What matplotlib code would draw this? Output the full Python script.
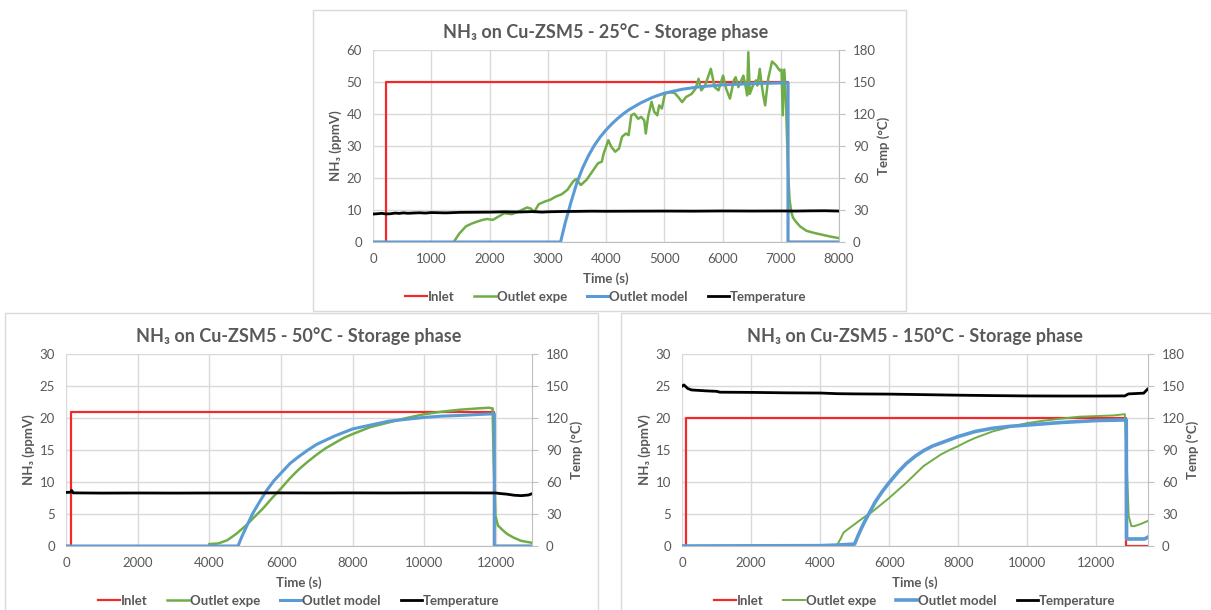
import matplotlib.pyplot as plt
from matplotlib.patches import Rectangle

plt.rcParams['font.family'] = ['Lato', 'DejaVu Sans']

W, H = 1211, 610
TXT = '#595959'
GRID = '#d9d9d9'
AXL = '#bfbfbf'
C_INLET = '#f02a2a'
C_EXPE = '#70ad47'
C_MODEL = '#5b9bd5'
C_TEMP = '#000000'

# ---------------- 25 C ----------------
t_inlet_25 = [0, 220, 220, 7125, 7125, 8000]
inlet_25 = [0, 0, 50, 50, 0, 0]

t_expe_25 = [1386, 1480, 1596, 1700, 1793, 1880, 1957, 2056, 2150, 2253, 2384, 2516, 2647, 2713, 2765, 2844,
             2943, 3041, 3140, 3238, 3337, 3435, 3488, 3567, 3665, 3764, 3862, 3928,
             3961, 4040, 4093, 4158, 4223, 4276, 4342, 4388, 4434, 4486, 4552, 4604,
             4657, 4683, 4722, 4782, 4827, 4880, 4913, 4959, 5011, 5077, 5176, 5241,
             5307, 5373, 5471, 5537, 5589, 5635, 5701, 5800, 5865, 5931, 6010, 6062,
             6128, 6194, 6226, 6272, 6312, 6358, 6404, 6423, 6443, 6469, 6522, 6574,
             6600, 6640, 6666, 6705, 6732, 6784, 6850, 6916, 6981, 7014, 7034, 7061,
             7087, 7126, 7150, 7179, 7210, 7258, 7330, 7441, 7560, 7704, 7850, 8000]
expe_25 = [0.0, 2.6, 4.9, 5.8, 6.4, 6.9, 7.2, 6.9, 7.9, 9.0, 8.7, 9.7, 10.8, 10.4, 9.3, 11.8,
           12.6, 13.2, 14.2, 14.9, 16.3, 18.9, 19.7, 17.8, 19.4, 22.0, 24.6, 25.1,
           27.7, 31.8, 29.7, 28.2, 29.2, 32.9, 33.9, 33.4, 39.6, 40.1, 38.5, 39.1,
           38.0, 33.9, 39.1, 43.8, 40.7, 39.6, 42.7, 41.7, 46.3, 46.8, 46.6, 45.3,
           43.7, 45.3, 46.3, 47.9, 51.0, 47.4, 48.9, 54.1, 48.4, 47.4, 52.0, 47.9,
           44.8, 50.5, 51.5, 48.4, 50.0, 52.0, 47.9, 45.8, 59.3, 46.3, 48.9, 50.5,
           48.9, 54.1, 50.0, 45.3, 42.7, 51.0, 56.4, 55.3, 53.6, 53.9, 39.6, 53.9,
           44.8, 22.0, 13.5, 9.5, 7.6, 6.4, 4.9, 3.5, 2.9, 2.3, 1.7, 1.2]

t_model_25 = [0, 3220, 3300, 3400, 3500, 3600, 3700, 3800, 3900, 4000, 4100, 4200, 4300, 4400,
              4600, 4800, 5000, 5300, 5600, 6000, 6500, 7000, 7125, 7125, 8000]
model_25 = [0, 0, 6.0, 12.5, 18.5, 23.2, 27.0, 30.2, 32.8, 35.0, 36.9, 38.6, 40.1, 41.4,
            43.5, 45.2, 46.5, 47.7, 48.5, 49.1, 49.5, 49.7, 49.7, 0, 0]

t_temp_25 = [0, 100, 150, 220, 300, 380, 450, 520, 600, 700, 800, 900, 1000, 1250, 1500, 1750,
             2000, 2250, 2500, 2750, 2900, 3000, 3250, 3500, 3750, 4000, 4500, 5000, 5500,
             6000, 6500, 7000, 7250, 7500, 7750, 8000]
temp_25 = [26.2, 26.6, 26.9, 26.3, 26.5, 27.1, 26.8, 27.3, 26.9, 27.2, 27.4, 27.1, 27.6, 27.3, 27.8, 27.9,
           28.0, 28.3, 28.1, 28.5, 28.0, 28.3, 28.6, 28.7, 28.9, 28.8, 28.9, 29.0, 28.9,
           29.1, 29.0, 29.1, 29.0, 29.2, 29.3, 29.0]

# ---------------- 50 C ----------------
t_inlet_50 = [0, 140, 140, 11950, 11950, 13000]
inlet_50 = [0, 0, 21, 21, 0, 0]

t_expe_50 = [4000, 4250, 4500, 4750, 5000, 5250, 5500, 5750, 6000, 6250, 6500, 6750,
             7000, 7250, 7500, 7750, 8000, 8500, 9000, 9500, 10000, 10500, 11000, 11500,
             11800, 11900, 11930, 11980, 12050, 12160, 12300, 12490, 12700, 13000]
expe_50 = [0.3, 0.4, 0.9, 1.9, 3.1, 4.5, 5.9, 7.5, 9.0, 10.6, 12.0, 13.2,
           14.3, 15.3, 16.1, 16.9, 17.5, 18.6, 19.3, 20.0, 20.6, 21.0, 21.3, 21.5,
           21.6, 21.5, 13.5, 4.7, 3.2, 2.6, 1.9, 1.3, 0.8, 0.5]

t_model_50 = [0, 4800, 4900, 5000, 5200, 5400, 5600, 5800, 6000, 6250, 6500, 6750, 7000,
              7500, 8000, 8500, 9000, 9500, 10000, 10500, 11000, 11500, 11950, 11950, 13000]
model_50 = [0, 0, 1.4, 2.6, 5.0, 6.9, 8.7, 10.2, 11.4, 12.9, 14.0, 15.0, 15.9,
            17.2, 18.3, 18.9, 19.5, 19.8, 20.1, 20.3, 20.4, 20.55, 20.65, 0, 0]

t_temp_50 = [0, 120, 160, 200, 1000, 2000, 3000, 4000, 5000, 6000, 7000, 8000, 9000,
             10000, 11000, 12000, 12100, 12300, 12500, 12700, 12900, 13000]
temp_50 = [50.2, 50.4, 52.0, 49.8, 49.6, 49.7, 49.6, 49.7, 49.7, 49.8, 49.7, 49.8, 49.7,
           49.8, 49.8, 49.7, 49.2, 48.6, 47.6, 47.2, 47.8, 49.0]

# ---------------- 150 C ----------------
t_inlet_150 = [0, 130, 130, 12860, 12860, 13500]
inlet_150 = [0, 0, 20, 20, 0, 0]

t_expe_150 = [4000, 4490, 4600, 4680, 4800, 5000, 5250, 5500, 5750, 6000, 6250, 6500,
              6750, 7000, 7250, 7500, 7750, 8000, 8250, 8500, 8750, 9000, 9500, 10000,
              10500, 11000, 11500, 12000, 12500, 12830, 12880, 12940, 13020, 13100,
              13270, 13490]
expe_150 = [0.0, 0.1, 1.2, 2.1, 2.6, 3.4, 4.4, 5.3, 6.4, 7.5, 8.7, 9.9,
            11.2, 12.5, 13.4, 14.3, 15.0, 15.6, 16.3, 16.9, 17.4, 17.9, 18.6, 19.2,
            19.6, 19.9, 20.2, 20.3, 20.4, 20.6, 13.5, 4.7, 3.1, 3.1,
            3.4, 3.9]

t_model_150 = [0, 4000, 4500, 5000, 5100, 5200, 5300, 5400, 5500, 5600, 5800, 6000,
               6250, 6500, 6750, 7000, 7250, 7500, 7750, 8000, 8500, 9000, 9500, 10000,
               10500, 11000, 11500, 12000, 12870, 12880, 13400, 13500]
model_150 = [0, 0.05, 0.15, 0.3, 1.6, 2.8, 3.9, 4.9, 5.9, 6.9, 8.5, 9.9,
             11.5, 12.9, 14.0, 14.9, 15.6, 16.1, 16.6, 17.1, 17.9, 18.4, 18.7, 18.9,
             19.1, 19.3, 19.45, 19.6, 19.7, 1.1, 1.1, 1.4]

t_temp_150 = [0, 55, 165, 275, 715, 1000, 1100, 2037, 3000, 4018, 4500, 5000, 6000,
              7000, 7982, 9000, 9964, 11000, 12000, 12826, 12936, 13376, 13486]
temp_150 = [149.8, 151.0, 147.7, 146.3, 145.4, 145.0, 144.2, 144.0, 143.6, 143.4, 142.8, 142.6, 142.4,
            141.9, 141.4, 141.0, 140.7, 140.6, 140.6, 140.7, 142.6, 143.3, 147.0]


def frac(x0, y0, x1, y1):
    return [x0 / W, 1 - y1 / H, (x1 - x0) / W, (y1 - y0) / H]


def draw_panel(fig, box, axrect, title, xmax, xstep, ymax, ystep,
               inlet, expe, model, temp, lw_expe=1.8, lw_model=2.2):
    bx0, by0, bx1, by1 = box
    fig.add_artist(Rectangle((bx0 / W, 1 - by1 / H), (bx1 - bx0) / W, (by1 - by0) / H,
                             transform=fig.transFigure, fill=False, ec=GRID, lw=1))
    x0, y0, x1, y1 = axrect
    ax = fig.add_axes(frac(x0, y0, x1, y1))
    ax.plot(inlet[0], inlet[1], color=C_INLET, lw=1.6, label='Inlet')
    ax.plot(expe[0], expe[1], color=C_EXPE, lw=lw_expe, label='Outlet expe')
    ax.plot(model[0], model[1], color=C_MODEL, lw=lw_model, label='Outlet model')
    ax.set_xlim(0, xmax)
    ax.set_ylim(0, ymax)
    ax.set_xticks(range(0, xmax + 1, xstep))
    ax.set_yticks(range(0, ymax + 1, ystep))
    ax.grid(True, color=GRID, lw=1)
    ax.set_axisbelow(True)
    for s in ['top', 'left', 'right']:
        ax.spines[s].set_visible(False)
    ax.spines['bottom'].set_color(AXL)
    ax.tick_params(axis='x', length=0, pad=8, labelsize=9.5, labelcolor=TXT)
    ax.tick_params(axis='y', length=0, pad=8, labelsize=9.5, labelcolor=TXT)

    ax2 = ax.twinx()
    ax2.plot(temp[0], temp[1], color=C_TEMP, lw=2.0, label='Temperature')
    ax2.set_ylim(0, 180)
    ax2.set_yticks(range(0, 181, 30))
    for s in ['top', 'left', 'bottom']:
        ax2.spines[s].set_visible(False)
    ax2.spines['right'].set_color(AXL)
    ax2.tick_params(axis='y', length=4, color=AXL, pad=6, labelsize=9.5, labelcolor=TXT)

    cx = (x0 + x1) / 2
    fig.text(cx / W, 1 - (y0 - 18) / H, title, ha='center', va='center',
             fontsize=13, fontweight='bold', color=TXT)
    fig.text(cx / W, 1 - (y1 + 37) / H, 'Time (s)', ha='center', va='center',
             fontsize=9.5, fontweight='bold', color=TXT)
    fig.text((x0 - 37) / W, 1 - ((y0 + y1) / 2) / H, 'NH₃ (ppmV)', ha='center', va='center',
             rotation=90, fontsize=9.5, fontweight='bold', color=TXT)
    fig.text((x1 + 45) / W, 1 - ((y0 + y1) / 2) / H, 'Temp (°C)', ha='center', va='center',
             rotation=90, fontsize=9.5, fontweight='bold', color=TXT)

    handles = ax.get_lines() + ax2.get_lines()
    fig.legend(handles, [h.get_label() for h in handles], loc='center',
               bbox_to_anchor=(cx / W, 1 - (y1 + 55) / H), ncol=4, frameon=False,
               handlelength=1.6, handletextpad=0.1, columnspacing=1.5,
               prop={'weight': 'bold', 'size': 9.5}, labelcolor=TXT)
    return ax, ax2


fig = plt.figure(figsize=(W / 100, H / 100), dpi=100)

draw_panel(fig, (313, 10, 906, 311), (373, 50, 839, 242),
           'NH₃ on Cu-ZSM5 - 25°C - Storage phase', 8000, 1000, 60, 10,
           (t_inlet_25, inlet_25), (t_expe_25, expe_25), (t_model_25, model_25),
           (t_temp_25, temp_25))

draw_panel(fig, (5, 313, 598, 615), (66, 354, 532, 546),
           'NH₃ on Cu-ZSM5 - 50°C - Storage phase', 13000, 2000, 30, 5,
           (t_inlet_50, inlet_50), (t_expe_50, expe_50), (t_model_50, model_50),
           (t_temp_50, temp_50))

draw_panel(fig, (621, 313, 1215, 615), (682, 354, 1148, 546),
           'NH₃ on Cu-ZSM5 - 150°C - Storage phase', 13500, 2000, 30, 5,
           (t_inlet_150, inlet_150), (t_expe_150, expe_150), (t_model_150, model_150),
           (t_temp_150, temp_150), lw_expe=1.4, lw_model=2.6)

fig.savefig('out.png', dpi=100)
